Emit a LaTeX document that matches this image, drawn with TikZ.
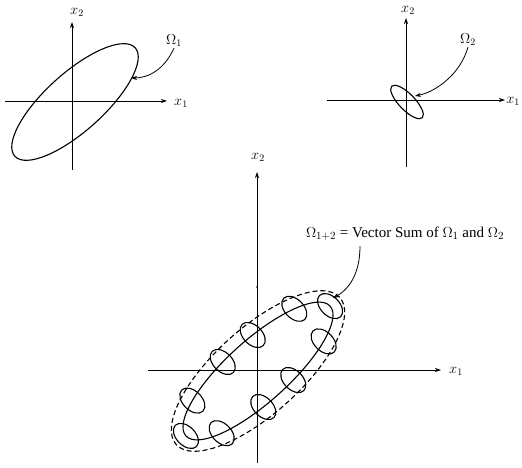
\documentclass[tikz,border=0pt]{standalone}
\usepackage{fontspec}
\setmainfont{Liberation Serif}
\usetikzlibrary{arrows.meta}
\tikzset{
  axis/.style={line width=0.8pt,-{Stealth[length=6pt,width=4pt]}},
  curve/.style={line width=1.1pt},
  pointer/.style={line width=0.8pt,-{Stealth[length=6pt,width=4pt]}},
  lab/.style={inner sep=1pt,font=\fontsize{14}{16}\selectfont},
  biglab/.style={inner sep=1pt,font=\fontsize{15}{17}\selectfont},
  small/.style={line width=1.1pt}
}
\begin{document}
\begin{tikzpicture}[x=1pt,y=1pt]
\useasboundingbox (0,0) rectangle (522,-468);
% ---------- top-left panel ----------
\coordinate (a1w) at (5,-101);
\coordinate (a1e) at (167,-101);
\coordinate (a1s) at (72,-170);
\coordinate (a1n) at (72,-22);
\draw[axis] (a1w) -- (a1e);
\draw[axis] (a1s) -- (a1n);
\node[lab] (x2a) at (77,-12) {$x_2$};
\node[lab] (x1a) at (181,-103) {$x_1$};
\draw[curve] (75,-102) ellipse[x radius=81, y radius=29, rotate=42];
\node[lab] (om1) at (174,-41) {$\Omega_1$};
\coordinate (om1end) at (131,-78);
\draw[pointer] (om1.south) .. controls (164,-70) and (148,-78) .. (om1end);
% ---------- top-right panel ----------
\coordinate (a2w) at (327,-100);
\coordinate (a2e) at (505,-100);
\coordinate (a2s) at (406,-167);
\coordinate (a2n) at (406,-18);
\draw[axis] (a2w) -- (a2e);
\draw[axis] (a2s) -- (a2n);
\node[lab] (x2b) at (408,-10) {$x_2$};
\node[lab] (x1b) at (513,-101) {$x_1$};
\draw[curve] (407,-102) ellipse[x radius=22, y radius=8, rotate=-46];
\node[lab] (om2) at (468,-40) {$\Omega_2$};
\coordinate (om2end) at (415,-96);
\draw[pointer] (om2.south) .. controls (460,-75) and (435,-92) .. (om2end);
% ---------- bottom panel ----------
\coordinate (a3w) at (148,-370);
\coordinate (a3e) at (441,-370);
\coordinate (a3s) at (257,-463);
\coordinate (a3n) at (257,-172);
\draw[axis] (a3w) -- (a3e);
\draw[axis] (a3s) -- (a3n);
\node[lab] (x2c) at (258,-157) {$x_2$};
\node[lab] (x1c) at (456,-371) {$x_1$};
\fill (257,-287) circle (1pt);
\begin{scope}[shift={(258,-371)},rotate=42]
  \draw[curve] (0,0) ellipse[x radius=97, y radius=31];
  \draw[curve,dashed,dash pattern=on 5pt off 3pt] (0,0) ellipse[x radius=110, y radius=43];
  \foreach \t in {0,45,78,102,135,180,225,258,282,315}
    \draw[small] ({97*cos(\t)},{31*sin(\t)}) ellipse[x radius=15, y radius=9.5, rotate=-87];
\end{scope}
\node[biglab] (sum) at (405,-234) {$\Omega_{1+2}$ = Vector Sum of $\Omega_1$ and $\Omega_2$};
\coordinate (sumend) at (333,-298);
\draw[pointer] (360,-246) .. controls (360,-275) and (348,-290) .. (sumend);
\end{tikzpicture}
\end{document}
